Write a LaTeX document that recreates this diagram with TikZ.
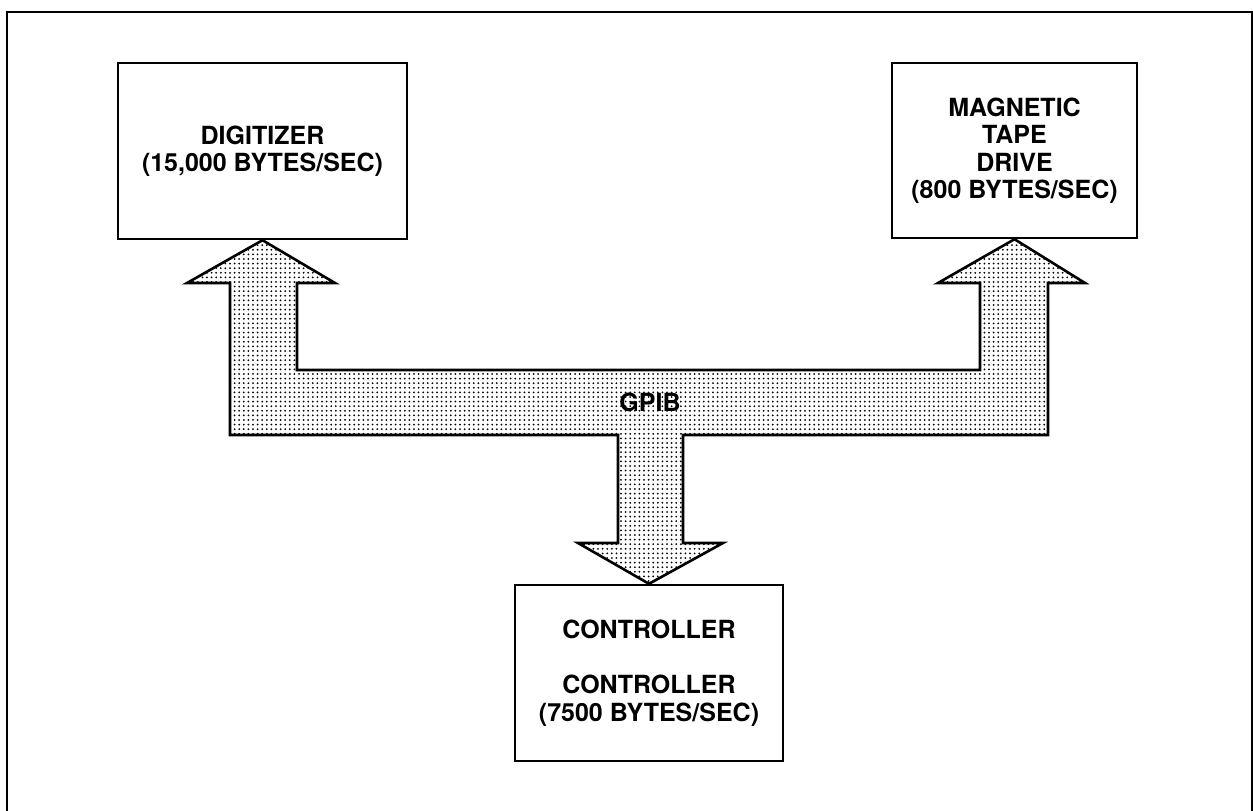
\documentclass[tikz,border=0pt]{standalone}
\usepackage{fontspec}
\setmainfont{TeX Gyre Heros}
\usetikzlibrary{patterns.meta}

\tikzset{
  unitbox/.style={draw, line width=2.4pt, fill=white, align=center,
    inner sep=0pt, font=\bfseries\fontsize{25}{27.5}\selectfont},
  busshape/.style={draw, line width=2.6pt, line join=miter,
    pattern={Dots[distance=4.6pt, radius=1pt]}},
  frameline/.style={draw, line width=2pt},
  buslabel/.style={font=\bfseries\fontsize{25}{27.5}\selectfont, inner sep=1pt}
}

\begin{document}
\begin{tikzpicture}[x=1pt, y=-1pt]
\useasboundingbox (0,0) rectangle (1253,811);

% open frame round the diagram
\draw[frameline] (7,811) -- (7,12) -- (1252,12) -- (1252,811);

% the three units on the bus
\node[unitbox, minimum width=289pt, minimum height=176pt] (dig) at (262.5,151)
  {DIGITIZER\\(15,000 BYTES/SEC)};
\node[unitbox, minimum width=245pt, minimum height=175pt] (tape) at (1014.5,150.5)
  {MAGNETIC\\TAPE\\DRIVE\\(800 BYTES/SEC)};
\node[unitbox, minimum width=268pt, minimum height=176pt] (ctrl) at (649,673)
  {CONTROLLER\\[27.5pt]CONTROLLER\\(7500 BYTES/SEC)};

% corner points of the shaded bus
\coordinate (lt) at (dig.south);
\coordinate (rt) at (tape.south);
\coordinate (bt) at (ctrl.north);

% GPIB bus: one outline with three arrow heads
\path[busshape]
  (lt) -- (335,283) -- (297,283) -- (297,370) -- (980,370) -- (980,283)
  -- (938,283) -- (rt) -- (1085,283) -- (1048,283) -- (1048,435)
  -- (683,435) -- (683,543) -- (723,543) -- (bt) -- (578,543)
  -- (618,543) -- (618,435) -- (230,435) -- (230,283) -- (187,283) -- cycle;

\node[buslabel] (gpib) at (650,402) {GPIB};
\end{tikzpicture}
\end{document}
